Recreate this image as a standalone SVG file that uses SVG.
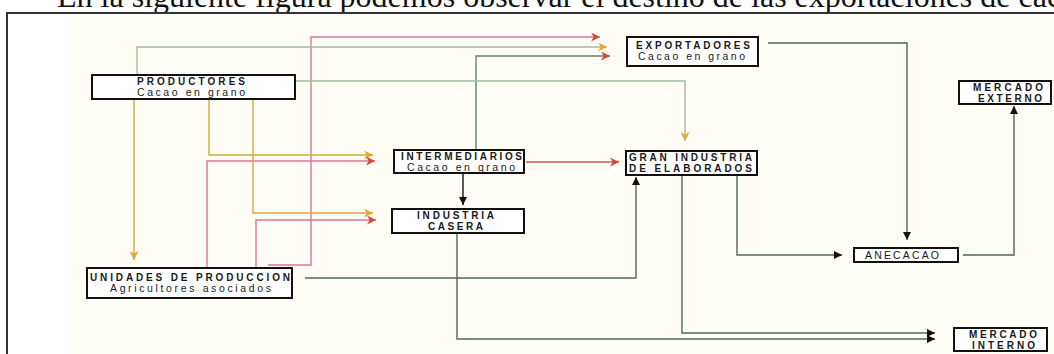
<svg xmlns="http://www.w3.org/2000/svg" width="1054" height="354" viewBox="0 0 1054 354">
  <style>
    .box { fill: #ffffff; stroke: #111; stroke-width: 2; }
    .t { font-family: "Liberation Sans", Arial, sans-serif; font-size: 10.5px; fill: #1a1a1a; }
    .c { font-weight: bold; font-size: 10px; }
    .title { font-family: "Liberation Serif", "Times New Roman", serif; font-size: 32px; fill: #111; }
    .ln { fill: none; stroke-width: 1.4; }
    .green { stroke: #5f875f; }
    .pale { stroke: #9fc09a; }
    .olive { stroke: #c8b040; }
    .orange { stroke: #e2a536; }
    .pink { stroke: #de7494; }
    .red { stroke: #c95a5a; }
    .dark { stroke: #4d6b4d; }
  </style>
  <defs>
    <marker id="arRed" viewBox="0 0 10 10" refX="10" refY="5" markerWidth="11" markerHeight="9" markerUnits="userSpaceOnUse" orient="auto">
      <path d="M0,0 L10,5 L0,10 L3,5 Z" fill="#d9452f"/>
    </marker>
    <marker id="arOrange" viewBox="0 0 10 10" refX="10" refY="5" markerWidth="11" markerHeight="9" markerUnits="userSpaceOnUse" orient="auto">
      <path d="M0,0 L10,5 L0,10 L3,5 Z" fill="#e9a42c"/>
    </marker>
    <marker id="arBlack" viewBox="0 0 10 10" refX="10" refY="5" markerWidth="10" markerHeight="8" markerUnits="userSpaceOnUse" orient="auto">
      <path d="M0,0 L10,5 L0,10 Z" fill="#111"/>
    </marker>
  </defs>

  <!-- page background and frame -->
  <rect x="0" y="0" width="1054" height="354" fill="#ffffff"/>
  <rect x="70" y="15" width="984" height="339" fill="#fffdf6"/>
  <text class="title" x="57" y="7">En la siguiente figura podemos observar el destino de las exportaciones de cacao</text>
  <path d="M7,354 V13 H1054" fill="none" stroke="#333" stroke-width="2"/>

  <!-- connectors -->
  <g id="connectors">
    <path class="ln pink" d="M268,265 H311 V37 H600" marker-end="url(#arRed)"/>
    <path class="ln pale" d="M137,75 V47 H607" marker-end="url(#arOrange)"/>
    <path class="ln green" d="M476,150 V56 H610" marker-end="url(#arRed)"/>
    <path class="ln pale" d="M295,81 H685 V141" marker-end="url(#arOrange)"/>
    <path class="ln olive" d="M134,99 V260" marker-end="url(#arOrange)"/>
    <path class="ln olive" d="M209,99 V155 H373" marker-end="url(#arOrange)"/>
    <path class="ln pink" d="M207,268 V161 H375" marker-end="url(#arRed)"/>
    <path class="ln orange" d="M253,99 V213 H373" marker-end="url(#arOrange)"/>
    <path class="ln pink" d="M256,268 V220 H376" marker-end="url(#arRed)"/>
    <path class="ln red" d="M526,162 H619" marker-end="url(#arRed)"/>
    <path class="ln" stroke="#111" d="M463,174 V205" marker-end="url(#arBlack)"/>
    <path class="ln dark" d="M305,278 H636 V177" marker-end="url(#arBlack)"/>
    <path class="ln dark" d="M457,234 V339 H935" marker-end="url(#arBlack)"/>
    <path class="ln dark" d="M682,176 V333 H935" marker-end="url(#arBlack)"/>
    <path class="ln dark" d="M737,176 V255 H842" marker-end="url(#arBlack)"/>
    <path class="ln dark" d="M768,43 H907 V240" marker-end="url(#arBlack)"/>
    <path class="ln dark" d="M963,255 H1014 V106" marker-end="url(#arBlack)"/>
  </g>

  <!-- nodes -->
  <g id="productores">
    <rect class="box" x="92" y="75" width="203" height="24"/>
    <text class="t c" x="137" y="85" textLength="108" lengthAdjust="spacing">PRODUCTORES</text>
    <text class="t" x="137" y="96" textLength="108" lengthAdjust="spacing">Cacao en grano</text>
  </g>
  <g id="exportadores">
    <rect class="box" x="627" y="37" width="131" height="29"/>
    <text class="t c" x="636" y="49" textLength="114" lengthAdjust="spacing">EXPORTADORES</text>
    <text class="t" x="638" y="60" textLength="107" lengthAdjust="spacing">Cacao en grano</text>
  </g>
  <g id="intermediarios">
    <rect class="box" x="394" y="150" width="130" height="23"/>
    <text class="t c" x="401" y="160" textLength="121" lengthAdjust="spacing">INTERMEDIARIOS</text>
    <text class="t" x="407" y="171" textLength="108" lengthAdjust="spacing">Cacao en grano</text>
  </g>
  <g id="gran-industria">
    <rect class="box" x="626" y="151" width="131" height="24"/>
    <text class="t c" x="629" y="161" textLength="123" lengthAdjust="spacing">GRAN INDUSTRIA</text>
    <text class="t c" x="629" y="172" textLength="123" lengthAdjust="spacing">DE ELABORADOS</text>
  </g>
  <g id="industria-casera">
    <rect class="box" x="392" y="209" width="132" height="24"/>
    <text class="t c" x="417" y="219" textLength="77" lengthAdjust="spacing">INDUSTRIA</text>
    <text class="t c" x="428" y="230" textLength="55" lengthAdjust="spacing">CASERA</text>
  </g>
  <g id="unidades">
    <rect class="box" x="87" y="268" width="205" height="30"/>
    <text class="t c" x="90" y="281" textLength="200" lengthAdjust="spacing">UNIDADES DE PRODUCCION</text>
    <text class="t" x="110" y="292" textLength="161" lengthAdjust="spacing">Agricultores asociados</text>
  </g>
  <g id="anecacao">
    <rect class="box" x="854" y="248" width="104" height="14"/>
    <text class="t" x="865" y="259" textLength="74" lengthAdjust="spacing">ANECACAO</text>
  </g>
  <g id="mercado-externo">
    <rect class="box" x="959" y="81" width="92" height="23"/>
    <text class="t c" x="973" y="91" textLength="70" lengthAdjust="spacing">MERCADO</text>
    <text class="t c" x="978" y="102" textLength="64" lengthAdjust="spacing">EXTERNO</text>
  </g>
  <g id="mercado-interno">
    <rect class="box" x="954" y="328" width="93" height="23"/>
    <text class="t c" x="969" y="338" textLength="68" lengthAdjust="spacing">MERCADO</text>
    <text class="t c" x="972" y="349" textLength="63" lengthAdjust="spacing">INTERNO</text>
  </g>
</svg>
